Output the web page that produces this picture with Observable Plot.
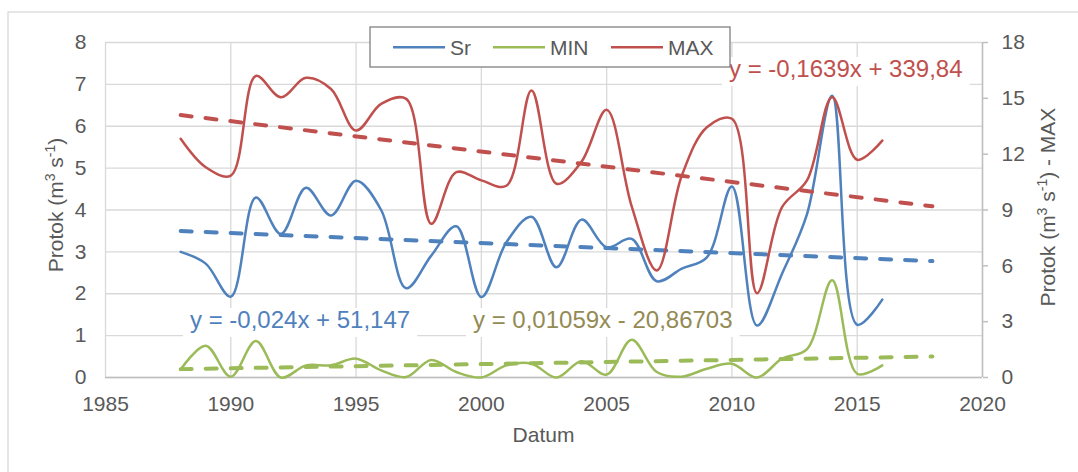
<!DOCTYPE html>
<html><head><meta charset="utf-8">
<script src="https://cdn.jsdelivr.net/npm/d3@7"></script>
<script src="https://cdn.jsdelivr.net/npm/@observablehq/plot@0.6"></script>
<style>
html,body{margin:0;padding:0;background:#fff;}
svg{display:block;}
</style>
</head><body><div id="chart"></div>
<script>
// ---- data ----
const years = [1988,1989,1990,1991,1992,1993,1994,1995,1996,1997,1998,1999,2000,2001,2002,2003,2004,2005,2006,2007,2008,2009,2010,2011,2012,2013,2014,2015,2016];
const srValues  = [3.0,2.72,1.93,4.3,3.43,4.53,3.87,4.7,4.0,2.13,2.91,3.61,1.92,3.23,3.84,2.63,3.77,3.11,3.31,2.3,2.6,2.87,4.56,1.24,2.48,3.91,6.73,1.26,1.86];
const minValues = [0.19,0.76,0.02,0.87,0.0,0.29,0.29,0.45,0.17,0.01,0.42,0.13,0.0,0.29,0.33,0.0,0.39,0.07,0.9,0.13,0.02,0.21,0.33,0.0,0.45,0.68,2.32,0.09,0.29];
const maxValues = [12.83,11.3,10.85,16.2,15.06,16.1,15.5,13.27,14.7,14.97,8.26,11.03,10.59,10.3,15.42,10.41,11.6,14.38,9.2,5.75,10.85,13.45,13.9,4.53,9.15,10.6,15.06,11.7,12.73];
// trend lines (linear at start and end year)
const trendYears = [1988, 2018];
const srTrend  = [3.5, 2.78];
const minTrend = [0.2, 0.5];
const maxTrend = [14.1, 9.2];
const seriesNames = ["Sr","MIN","MAX"];
const seriesColors = ["#4F81BD","#9BBB59","#C0504D"];
const equationTexts = ["y = -0,024x + 51,147","y = 0,01059x - 20,86703","y = -0,1639x + 339,84"];
const equationColors = ["#4F81BD","#948A54","#C0504D"];
const xTicks = [1985,1990,1995,2000,2005,2010,2015,2020];
const yLeftTicks = [0,1,2,3,4,5,6,7,8];
const yRightTicks = [0,3,6,9,12,15,18];
const xTitle = "Datum";

// ---- helpers ----
const leftMax = 8, rightMax = 18;
const k = leftMax / rightMax; // right-axis value -> left-axis units
const rows = years.map((yr,i)=>({year:yr, sr:srValues[i], min:minValues[i], max:maxValues[i]*k}));
const trendRows = (vals, s) => trendYears.map((yr,i)=>({year:yr, v:vals[i]*s}));
const trSr = trendRows(srTrend,1), trMin = trendRows(minTrend,1), trMax = trendRows(maxTrend,k);

const grid = "#D9D9D9", axisGray = "#BFBFBF", textGray = "#595959";
const dash = "11,14";
const fs = 21;
const lw = 2.5, tw = 4;

const plot = Plot.plot({
  width:1078, height:472,
  marginLeft:105, marginRight:96, marginTop:42, marginBottom:95,
  style:{fontFamily:"'Liberation Sans', Arial, sans-serif", fontSize:fs+"px", color:textGray, background:"transparent", overflow:"visible"},
  x:{domain:[1985,2020]},
  y:{domain:[0,8]},
  marks:[
    Plot.gridX(xTicks,{stroke:grid, strokeOpacity:1, strokeWidth:1.3}),
    Plot.gridY(yLeftTicks,{stroke:grid, strokeOpacity:1, strokeWidth:1.3}),
    Plot.ruleY([0],{stroke:axisGray, strokeWidth:1.5}),
    Plot.ruleX([2020],{y1:0, y2:8, stroke:axisGray, strokeWidth:1.5}),
    Plot.axisX(xTicks,{tickSize:0, tickPadding:19, tickFormat:d=>String(d), fontSize:fs, fill:textGray, label:null}),
    Plot.axisY(yLeftTicks,{anchor:"left", tickSize:0, tickPadding:19, tickFormat:d=>String(d), fontSize:fs, fill:textGray, label:null}),
    Plot.axisY(yRightTicks.map(d=>d*k),{anchor:"right", tickSize:5, tickPadding:14, stroke:axisGray, strokeWidth:1.5, tickFormat:d=>String(Math.round(d/k)), fontSize:fs, fill:textGray, label:null}),
    Plot.line(trSr,{x:"year", y:"v", stroke:seriesColors[0], strokeWidth:tw, strokeDasharray:dash, strokeLinecap:"round"}),
    Plot.line(trMin,{x:"year", y:"v", stroke:seriesColors[1], strokeWidth:tw, strokeDasharray:dash, strokeLinecap:"round"}),
    Plot.line(rows,{x:"year", y:"sr", stroke:seriesColors[0], strokeWidth:lw, curve:"catmull-rom"}),
    Plot.line(rows,{x:"year", y:"min", stroke:seriesColors[1], strokeWidth:lw, curve:"catmull-rom"}),
    Plot.line(trMax,{x:"year", y:"v", stroke:seriesColors[2], strokeWidth:tw, strokeDasharray:dash, strokeLinecap:"round"}),
    Plot.line(rows,{x:"year", y:"max", stroke:seriesColors[2], strokeWidth:lw, curve:"catmull-rom"})
  ]
});
document.getElementById("chart").appendChild(plot);

const svg = d3.select(plot);
const font = "'Liberation Sans', Arial, sans-serif";
// outer chart border
svg.insert("rect",":first-child").attr("x",8).attr("y",12).attr("width",1100).attr("height",500)
  .attr("fill","#fff").attr("stroke",grid).attr("stroke-width",1.3);

// equations with white backgrounds
const eqPos = [{x:190, y:328}, {x:473, y:328}, {x:729, y:77}];
equationTexts.forEach((t,i)=>{
  const g = svg.append("g");
  const txt = g.append("text").attr("x",eqPos[i].x).attr("y",eqPos[i].y).attr("text-anchor","start")
    .attr("font-family",font).attr("font-size",24).attr("fill",equationColors[i]).text(t);
  const bb = txt.node().getBBox();
  g.insert("rect","text").attr("x",bb.x-7).attr("y",bb.y+2).attr("width",bb.width+14).attr("height",bb.height+2).attr("fill","#fff");
});

// legend
const lg = svg.append("g");
lg.append("rect").attr("x",370).attr("y",27).attr("width",360).attr("height",40)
  .attr("fill","#fff").attr("stroke","#808080").attr("stroke-width",1.3);
const lgX = [393, 493, 611];
seriesNames.forEach((n,i)=>{
  lg.append("line").attr("x1",lgX[i]).attr("x2",lgX[i]+52).attr("y1",47.3).attr("y2",47.3)
    .attr("stroke",seriesColors[i]).attr("stroke-width",lw);
  lg.append("text").attr("x",lgX[i]+57).attr("y",54.5).attr("text-anchor","start").attr("font-family",font).attr("font-size",fs)
    .attr("fill",textGray).text(n);
});

// axis titles
function unitTitle(x, y, suffix){
  const t = svg.append("text").attr("transform",`translate(${x},${y}) rotate(-90)`)
    .attr("text-anchor","middle").attr("font-family",font).attr("font-size",fs).attr("fill",textGray);
  t.append("tspan").text("Protok (m");
  t.append("tspan").attr("font-size",14).attr("dy",-8).text("3");
  t.append("tspan").attr("dy",8).text(" s");
  t.append("tspan").attr("font-size",14).attr("dy",-8).text("-1");
  t.append("tspan").attr("dy",8).text(")" + suffix);
}
unitTitle(63, 205, "");
unitTitle(1055, 207, " - MAX");
svg.append("text").attr("x",543.5).attr("y",442).attr("text-anchor","middle")
  .attr("font-family",font).attr("font-size",fs).attr("fill",textGray).text(xTitle);
</script>
</body></html>
